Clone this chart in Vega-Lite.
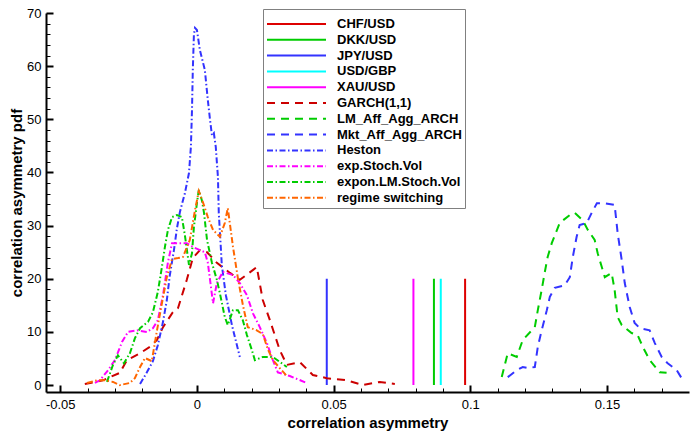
{
  "$schema": "https://vega.github.io/schema/vega-lite/v6.json",
  "width": 643,
  "height": 379,
  "autosize": {"type": "none"},
  "padding": {"left": 46, "top": 13, "right": 9, "bottom": 49},
  "background": "white",
  "data": {
    "values": [
      {"s": "CHF/USD", "x": 0.0981, "y": 0}, {"s": "CHF/USD", "x": 0.0981, "y": 20},
      {"s": "DKK/USD", "x": 0.0867, "y": 0}, {"s": "DKK/USD", "x": 0.0867, "y": 20},
      {"s": "JPY/USD", "x": 0.0475, "y": 0}, {"s": "JPY/USD", "x": 0.0475, "y": 20},
      {"s": "USD/GBP", "x": 0.0892, "y": 0}, {"s": "USD/GBP", "x": 0.0892, "y": 20},
      {"s": "XAU/USD", "x": 0.0792, "y": 0}, {"s": "XAU/USD", "x": 0.0792, "y": 20},

      {"s": "GARCH(1,1)", "x": -0.0410, "y": 0.2}, {"s": "GARCH(1,1)", "x": -0.0344, "y": 0.9},
      {"s": "GARCH(1,1)", "x": -0.0282, "y": 2.3}, {"s": "GARCH(1,1)", "x": -0.0256, "y": 4.7},
      {"s": "GARCH(1,1)", "x": -0.0208, "y": 6.0}, {"s": "GARCH(1,1)", "x": -0.0172, "y": 7.2},
      {"s": "GARCH(1,1)", "x": -0.0146, "y": 8.5}, {"s": "GARCH(1,1)", "x": -0.0124, "y": 10.9},
      {"s": "GARCH(1,1)", "x": -0.0088, "y": 13.7}, {"s": "GARCH(1,1)", "x": -0.0069, "y": 14.5},
      {"s": "GARCH(1,1)", "x": -0.0037, "y": 19.8}, {"s": "GARCH(1,1)", "x": -0.0015, "y": 23.9},
      {"s": "GARCH(1,1)", "x": 0.0011, "y": 25.4}, {"s": "GARCH(1,1)", "x": 0.0037, "y": 25.0},
      {"s": "GARCH(1,1)", "x": 0.0073, "y": 23.0}, {"s": "GARCH(1,1)", "x": 0.0121, "y": 21.1},
      {"s": "GARCH(1,1)", "x": 0.0157, "y": 19.8}, {"s": "GARCH(1,1)", "x": 0.0219, "y": 22.2},
      {"s": "GARCH(1,1)", "x": 0.0241, "y": 16.0}, {"s": "GARCH(1,1)", "x": 0.0267, "y": 12.2},
      {"s": "GARCH(1,1)", "x": 0.0303, "y": 6.6}, {"s": "GARCH(1,1)", "x": 0.0329, "y": 3.8},
      {"s": "GARCH(1,1)", "x": 0.0377, "y": 4.3}, {"s": "GARCH(1,1)", "x": 0.0424, "y": 1.9},
      {"s": "GARCH(1,1)", "x": 0.0475, "y": 1.3}, {"s": "GARCH(1,1)", "x": 0.0548, "y": 0.9},
      {"s": "GARCH(1,1)", "x": 0.0607, "y": 0.0}, {"s": "GARCH(1,1)", "x": 0.0669, "y": 0.6},
      {"s": "GARCH(1,1)", "x": 0.0724, "y": 0.2},

      {"s": "LM_Aff_Agg_ARCH", "x": 0.1115, "y": 1.5}, {"s": "LM_Aff_Agg_ARCH", "x": 0.1137, "y": 6.0},
      {"s": "LM_Aff_Agg_ARCH", "x": 0.1170, "y": 5.3}, {"s": "LM_Aff_Agg_ARCH", "x": 0.1192, "y": 8.5},
      {"s": "LM_Aff_Agg_ARCH", "x": 0.1236, "y": 10.9}, {"s": "LM_Aff_Agg_ARCH", "x": 0.1247, "y": 14.1},
      {"s": "LM_Aff_Agg_ARCH", "x": 0.1261, "y": 17.9}, {"s": "LM_Aff_Agg_ARCH", "x": 0.1272, "y": 21.1},
      {"s": "LM_Aff_Agg_ARCH", "x": 0.1283, "y": 24.1}, {"s": "LM_Aff_Agg_ARCH", "x": 0.1298, "y": 26.7},
      {"s": "LM_Aff_Agg_ARCH", "x": 0.1327, "y": 30.5}, {"s": "LM_Aff_Agg_ARCH", "x": 0.1364, "y": 32.0},
      {"s": "LM_Aff_Agg_ARCH", "x": 0.1382, "y": 32.4}, {"s": "LM_Aff_Agg_ARCH", "x": 0.1411, "y": 31.0},
      {"s": "LM_Aff_Agg_ARCH", "x": 0.1430, "y": 29.2}, {"s": "LM_Aff_Agg_ARCH", "x": 0.1455, "y": 27.3},
      {"s": "LM_Aff_Agg_ARCH", "x": 0.1466, "y": 24.8}, {"s": "LM_Aff_Agg_ARCH", "x": 0.1481, "y": 22.2},
      {"s": "LM_Aff_Agg_ARCH", "x": 0.1492, "y": 20.3}, {"s": "LM_Aff_Agg_ARCH", "x": 0.1517, "y": 21.1},
      {"s": "LM_Aff_Agg_ARCH", "x": 0.1528, "y": 17.9}, {"s": "LM_Aff_Agg_ARCH", "x": 0.1539, "y": 12.8},
      {"s": "LM_Aff_Agg_ARCH", "x": 0.1554, "y": 11.3}, {"s": "LM_Aff_Agg_ARCH", "x": 0.1590, "y": 9.8},
      {"s": "LM_Aff_Agg_ARCH", "x": 0.1612, "y": 9.4}, {"s": "LM_Aff_Agg_ARCH", "x": 0.1631, "y": 7.2},
      {"s": "LM_Aff_Agg_ARCH", "x": 0.1656, "y": 4.7}, {"s": "LM_Aff_Agg_ARCH", "x": 0.1693, "y": 2.4},
      {"s": "LM_Aff_Agg_ARCH", "x": 0.1718, "y": 2.3},

      {"s": "Mkt_Aff_Agg_ARCH", "x": 0.1137, "y": 1.5}, {"s": "Mkt_Aff_Agg_ARCH", "x": 0.1170, "y": 2.8},
      {"s": "Mkt_Aff_Agg_ARCH", "x": 0.1192, "y": 3.4}, {"s": "Mkt_Aff_Agg_ARCH", "x": 0.1210, "y": 3.2},
      {"s": "Mkt_Aff_Agg_ARCH", "x": 0.1236, "y": 3.4}, {"s": "Mkt_Aff_Agg_ARCH", "x": 0.1247, "y": 7.2},
      {"s": "Mkt_Aff_Agg_ARCH", "x": 0.1261, "y": 10.3}, {"s": "Mkt_Aff_Agg_ARCH", "x": 0.1280, "y": 14.1},
      {"s": "Mkt_Aff_Agg_ARCH", "x": 0.1291, "y": 16.6}, {"s": "Mkt_Aff_Agg_ARCH", "x": 0.1309, "y": 18.3},
      {"s": "Mkt_Aff_Agg_ARCH", "x": 0.1346, "y": 18.8}, {"s": "Mkt_Aff_Agg_ARCH", "x": 0.1364, "y": 20.3},
      {"s": "Mkt_Aff_Agg_ARCH", "x": 0.1375, "y": 24.1}, {"s": "Mkt_Aff_Agg_ARCH", "x": 0.1389, "y": 27.9},
      {"s": "Mkt_Aff_Agg_ARCH", "x": 0.1400, "y": 30.1}, {"s": "Mkt_Aff_Agg_ARCH", "x": 0.1426, "y": 30.5},
      {"s": "Mkt_Aff_Agg_ARCH", "x": 0.1444, "y": 32.4}, {"s": "Mkt_Aff_Agg_ARCH", "x": 0.1463, "y": 34.2},
      {"s": "Mkt_Aff_Agg_ARCH", "x": 0.1492, "y": 34.2}, {"s": "Mkt_Aff_Agg_ARCH", "x": 0.1528, "y": 33.9},
      {"s": "Mkt_Aff_Agg_ARCH", "x": 0.1539, "y": 28.6}, {"s": "Mkt_Aff_Agg_ARCH", "x": 0.1554, "y": 23.5},
      {"s": "Mkt_Aff_Agg_ARCH", "x": 0.1565, "y": 19.2}, {"s": "Mkt_Aff_Agg_ARCH", "x": 0.1583, "y": 14.7},
      {"s": "Mkt_Aff_Agg_ARCH", "x": 0.1601, "y": 11.7}, {"s": "Mkt_Aff_Agg_ARCH", "x": 0.1620, "y": 10.7},
      {"s": "Mkt_Aff_Agg_ARCH", "x": 0.1656, "y": 10.3}, {"s": "Mkt_Aff_Agg_ARCH", "x": 0.1675, "y": 7.9},
      {"s": "Mkt_Aff_Agg_ARCH", "x": 0.1700, "y": 5.3}, {"s": "Mkt_Aff_Agg_ARCH", "x": 0.1722, "y": 4.1},
      {"s": "Mkt_Aff_Agg_ARCH", "x": 0.1755, "y": 2.8}, {"s": "Mkt_Aff_Agg_ARCH", "x": 0.1773, "y": 1.3},

      {"s": "Heston", "x": -0.0208, "y": 0.2}, {"s": "Heston", "x": -0.0183, "y": 2.4},
      {"s": "Heston", "x": -0.0161, "y": 4.5}, {"s": "Heston", "x": -0.0143, "y": 7.5},
      {"s": "Heston", "x": -0.0124, "y": 11.9}, {"s": "Heston", "x": -0.0110, "y": 16.0},
      {"s": "Heston", "x": -0.0099, "y": 20.7}, {"s": "Heston", "x": -0.0084, "y": 25.4},
      {"s": "Heston", "x": -0.0073, "y": 29.5}, {"s": "Heston", "x": -0.0062, "y": 32.6},
      {"s": "Heston", "x": -0.0044, "y": 36.1}, {"s": "Heston", "x": -0.0029, "y": 39.9},
      {"s": "Heston", "x": -0.0022, "y": 44.8}, {"s": "Heston", "x": -0.0018, "y": 51.7},
      {"s": "Heston", "x": -0.0015, "y": 59.3}, {"s": "Heston", "x": -0.0011, "y": 65.9},
      {"s": "Heston", "x": -0.0007, "y": 67.2}, {"s": "Heston", "x": 0.0000, "y": 66.8},
      {"s": "Heston", "x": 0.0011, "y": 63.0}, {"s": "Heston", "x": 0.0029, "y": 59.3},
      {"s": "Heston", "x": 0.0040, "y": 53.6}, {"s": "Heston", "x": 0.0048, "y": 49.9},
      {"s": "Heston", "x": 0.0055, "y": 47.0}, {"s": "Heston", "x": 0.0062, "y": 47.4},
      {"s": "Heston", "x": 0.0069, "y": 44.8}, {"s": "Heston", "x": 0.0077, "y": 39.1},
      {"s": "Heston", "x": 0.0080, "y": 32.4}, {"s": "Heston", "x": 0.0088, "y": 25.4},
      {"s": "Heston", "x": 0.0091, "y": 22.6}, {"s": "Heston", "x": 0.0106, "y": 16.9},
      {"s": "Heston", "x": 0.0128, "y": 11.3}, {"s": "Heston", "x": 0.0157, "y": 5.3},

      {"s": "exp.Stoch.Vol", "x": -0.0373, "y": 0.4}, {"s": "exp.Stoch.Vol", "x": -0.0355, "y": 0.9},
      {"s": "exp.Stoch.Vol", "x": -0.0325, "y": 2.8}, {"s": "exp.Stoch.Vol", "x": -0.0300, "y": 4.7},
      {"s": "exp.Stoch.Vol", "x": -0.0274, "y": 8.1}, {"s": "exp.Stoch.Vol", "x": -0.0252, "y": 10.0},
      {"s": "exp.Stoch.Vol", "x": -0.0219, "y": 10.3}, {"s": "exp.Stoch.Vol", "x": -0.0183, "y": 10.0},
      {"s": "exp.Stoch.Vol", "x": -0.0161, "y": 10.7}, {"s": "exp.Stoch.Vol", "x": -0.0143, "y": 12.2},
      {"s": "exp.Stoch.Vol", "x": -0.0124, "y": 16.9}, {"s": "exp.Stoch.Vol", "x": -0.0106, "y": 23.1},
      {"s": "exp.Stoch.Vol", "x": -0.0091, "y": 26.7}, {"s": "exp.Stoch.Vol", "x": -0.0062, "y": 26.7},
      {"s": "exp.Stoch.Vol", "x": -0.0037, "y": 26.7}, {"s": "exp.Stoch.Vol", "x": -0.0015, "y": 26.0},
      {"s": "exp.Stoch.Vol", "x": 0.0011, "y": 25.4}, {"s": "exp.Stoch.Vol", "x": 0.0029, "y": 25.0},
      {"s": "exp.Stoch.Vol", "x": 0.0040, "y": 23.0}, {"s": "exp.Stoch.Vol", "x": 0.0059, "y": 15.4},
      {"s": "exp.Stoch.Vol", "x": 0.0073, "y": 19.2}, {"s": "exp.Stoch.Vol", "x": 0.0095, "y": 21.3},
      {"s": "exp.Stoch.Vol", "x": 0.0132, "y": 20.7}, {"s": "exp.Stoch.Vol", "x": 0.0157, "y": 19.2},
      {"s": "exp.Stoch.Vol", "x": 0.0183, "y": 16.9}, {"s": "exp.Stoch.Vol", "x": 0.0205, "y": 13.5},
      {"s": "exp.Stoch.Vol", "x": 0.0230, "y": 10.9}, {"s": "exp.Stoch.Vol", "x": 0.0256, "y": 7.9},
      {"s": "exp.Stoch.Vol", "x": 0.0278, "y": 4.7}, {"s": "exp.Stoch.Vol", "x": 0.0296, "y": 2.4},
      {"s": "exp.Stoch.Vol", "x": 0.0340, "y": 1.7}, {"s": "exp.Stoch.Vol", "x": 0.0402, "y": 0.4},

      {"s": "expon.LM.Stoch.Vol", "x": -0.0329, "y": 0.6}, {"s": "expon.LM.Stoch.Vol", "x": -0.0307, "y": 3.8},
      {"s": "expon.LM.Stoch.Vol", "x": -0.0289, "y": 5.6}, {"s": "expon.LM.Stoch.Vol", "x": -0.0267, "y": 4.1},
      {"s": "expon.LM.Stoch.Vol", "x": -0.0245, "y": 6.0}, {"s": "expon.LM.Stoch.Vol", "x": -0.0227, "y": 8.8},
      {"s": "expon.LM.Stoch.Vol", "x": -0.0208, "y": 10.7}, {"s": "expon.LM.Stoch.Vol", "x": -0.0179, "y": 11.9},
      {"s": "expon.LM.Stoch.Vol", "x": -0.0161, "y": 13.7}, {"s": "expon.LM.Stoch.Vol", "x": -0.0143, "y": 17.5},
      {"s": "expon.LM.Stoch.Vol", "x": -0.0128, "y": 22.2}, {"s": "expon.LM.Stoch.Vol", "x": -0.0117, "y": 26.0},
      {"s": "expon.LM.Stoch.Vol", "x": -0.0106, "y": 29.2}, {"s": "expon.LM.Stoch.Vol", "x": -0.0091, "y": 31.6},
      {"s": "expon.LM.Stoch.Vol", "x": -0.0073, "y": 32.0}, {"s": "expon.LM.Stoch.Vol", "x": -0.0055, "y": 31.6},
      {"s": "expon.LM.Stoch.Vol", "x": -0.0044, "y": 28.2}, {"s": "expon.LM.Stoch.Vol", "x": -0.0029, "y": 22.6},
      {"s": "expon.LM.Stoch.Vol", "x": -0.0018, "y": 24.8}, {"s": "expon.LM.Stoch.Vol", "x": -0.0011, "y": 29.7},
      {"s": "expon.LM.Stoch.Vol", "x": 0.0000, "y": 34.2}, {"s": "expon.LM.Stoch.Vol", "x": 0.0007, "y": 36.7},
      {"s": "expon.LM.Stoch.Vol", "x": 0.0018, "y": 34.8}, {"s": "expon.LM.Stoch.Vol", "x": 0.0026, "y": 32.4},
      {"s": "expon.LM.Stoch.Vol", "x": 0.0037, "y": 27.3}, {"s": "expon.LM.Stoch.Vol", "x": 0.0055, "y": 23.0},
      {"s": "expon.LM.Stoch.Vol", "x": 0.0073, "y": 19.8}, {"s": "expon.LM.Stoch.Vol", "x": 0.0084, "y": 17.3},
      {"s": "expon.LM.Stoch.Vol", "x": 0.0102, "y": 12.8}, {"s": "expon.LM.Stoch.Vol", "x": 0.0113, "y": 11.3},
      {"s": "expon.LM.Stoch.Vol", "x": 0.0132, "y": 14.1}, {"s": "expon.LM.Stoch.Vol", "x": 0.0150, "y": 14.1},
      {"s": "expon.LM.Stoch.Vol", "x": 0.0168, "y": 12.2}, {"s": "expon.LM.Stoch.Vol", "x": 0.0183, "y": 9.4},
      {"s": "expon.LM.Stoch.Vol", "x": 0.0201, "y": 6.6}, {"s": "expon.LM.Stoch.Vol", "x": 0.0212, "y": 4.7},
      {"s": "expon.LM.Stoch.Vol", "x": 0.0241, "y": 5.3}, {"s": "expon.LM.Stoch.Vol", "x": 0.0278, "y": 5.3},
      {"s": "expon.LM.Stoch.Vol", "x": 0.0329, "y": 3.4},

      {"s": "regime switching", "x": -0.0402, "y": 0.4}, {"s": "regime switching", "x": -0.0366, "y": 0.9},
      {"s": "regime switching", "x": -0.0336, "y": 0.9}, {"s": "regime switching", "x": -0.0307, "y": 0.6},
      {"s": "regime switching", "x": -0.0282, "y": 0.0}, {"s": "regime switching", "x": -0.0245, "y": 0.4},
      {"s": "regime switching", "x": -0.0227, "y": 1.3}, {"s": "regime switching", "x": -0.0208, "y": 3.4},
      {"s": "regime switching", "x": -0.0190, "y": 5.1}, {"s": "regime switching", "x": -0.0165, "y": 4.5},
      {"s": "regime switching", "x": -0.0146, "y": 10.3}, {"s": "regime switching", "x": -0.0128, "y": 15.4},
      {"s": "regime switching", "x": -0.0110, "y": 20.3}, {"s": "regime switching", "x": -0.0091, "y": 23.7},
      {"s": "regime switching", "x": -0.0069, "y": 23.9}, {"s": "regime switching", "x": -0.0051, "y": 24.1},
      {"s": "regime switching", "x": -0.0026, "y": 27.3}, {"s": "regime switching", "x": -0.0007, "y": 32.9},
      {"s": "regime switching", "x": 0.0007, "y": 36.5}, {"s": "regime switching", "x": 0.0022, "y": 34.4},
      {"s": "regime switching", "x": 0.0040, "y": 31.6}, {"s": "regime switching", "x": 0.0059, "y": 29.2},
      {"s": "regime switching", "x": 0.0084, "y": 27.9}, {"s": "regime switching", "x": 0.0102, "y": 30.5},
      {"s": "regime switching", "x": 0.0113, "y": 33.3}, {"s": "regime switching", "x": 0.0132, "y": 26.0},
      {"s": "regime switching", "x": 0.0150, "y": 20.1}, {"s": "regime switching", "x": 0.0168, "y": 15.1},
      {"s": "regime switching", "x": 0.0186, "y": 10.9}, {"s": "regime switching", "x": 0.0219, "y": 10.3},
      {"s": "regime switching", "x": 0.0241, "y": 9.6}, {"s": "regime switching", "x": 0.0259, "y": 6.8},
      {"s": "regime switching", "x": 0.0278, "y": 4.7}, {"s": "regime switching", "x": 0.0303, "y": 3.2},
      {"s": "regime switching", "x": 0.0329, "y": 1.7}
    ]
  },
  "layer": [
    {
      "mark": {"type": "line", "strokeWidth": 2},
      "encoding": {
        "x": {
          "field": "x", "type": "quantitative",
          "scale": {"domain": [-0.0552, 0.18], "nice": false, "zero": false},
          "axis": {"orient": "bottom", "title": "correlation asymmetry", "values": [-0.05, 0, 0.05, 0.1, 0.15], "labelExpr": "'' + datum.value", "labelFontSize": 13, "domainWidth": 2, "tickWidth": 2, "tickSize": -7, "labelPadding": 13, "titlePadding": 4, "labelFlush": false}
        },
        "y": {
          "field": "y", "type": "quantitative",
          "scale": {"domain": [-1.3, 70], "nice": false, "zero": false},
          "axis": {"orient": "left", "title": "correlation asymmetry pdf", "values": [0, 10, 20, 30, 40, 50, 60, 70], "labelFontSize": 13, "domainWidth": 2, "tickWidth": 2, "tickSize": -7, "labelPadding": 12, "titlePadding": 2, "labelFlush": false}
        },
        "color": {
          "field": "s", "type": "nominal",
          "scale": {
            "domain": ["CHF/USD", "DKK/USD", "JPY/USD", "USD/GBP", "XAU/USD", "GARCH(1,1)", "LM_Aff_Agg_ARCH", "Mkt_Aff_Agg_ARCH", "Heston", "exp.Stoch.Vol", "expon.LM.Stoch.Vol", "regime switching"],
            "range": ["#dd0000", "#00cc00", "#3333ff", "#00ffff", "#ff00ff", "#cc0000", "#00cc00", "#3333ff", "#3333ff", "#ff00ff", "#00cc00", "#ff6600"]
          },
          "legend": {"title": " ", "orient": "none", "legendX": 217, "legendY": -4}
        },
        "strokeDash": {
          "field": "s", "type": "nominal",
          "scale": {
            "domain": ["CHF/USD", "DKK/USD", "JPY/USD", "USD/GBP", "XAU/USD", "GARCH(1,1)", "LM_Aff_Agg_ARCH", "Mkt_Aff_Agg_ARCH", "Heston", "exp.Stoch.Vol", "expon.LM.Stoch.Vol", "regime switching"],
            "range": [[1, 0], [1, 0], [1, 0], [1, 0], [1, 0], [8, 6], [8, 6], [8, 6], [6, 2.5, 1.5, 2.5], [6, 2.5, 1.5, 2.5], [6, 2.5, 1.5, 2.5], [6, 2.5, 1.5, 2.5]]
          },
          "legend": {"title": " ", "orient": "none", "legendX": 217, "legendY": -4}
        }
      }
    },
    {
      "mark": {"type": "point", "opacity": 0},
      "encoding": {
        "x": {"field": "x", "type": "quantitative", "axis": {"orient": "bottom", "title": null, "labels": false, "domain": false, "tickSize": -4, "tickWidth": 1, "values": [-0.04, -0.03, -0.02, -0.01, 0.01, 0.02, 0.03, 0.04, 0.06, 0.07, 0.08, 0.09, 0.11, 0.12, 0.13, 0.14, 0.16, 0.17]}},
        "y": {"field": "y", "type": "quantitative", "axis": {"orient": "left", "title": null, "labels": false, "domain": false, "tickSize": -4, "tickWidth": 1, "values": [2, 4, 6, 8, 12, 14, 16, 18, 22, 24, 26, 28, 32, 34, 36, 38, 42, 44, 46, 48, 52, 54, 56, 58, 62, 64, 66, 68]}}
      }
    }
  ],
  "resolve": {"axis": {"x": "independent", "y": "independent"}},
  "config": {
    "view": {"stroke": null},
    "font": "Liberation Sans",
    "axis": {"grid": false, "labelFont": "Liberation Sans", "labelColor": "black", "labelFontSize": 13, "titleFont": "Liberation Sans", "titleFontSize": 15, "titleFontWeight": "bold", "titleColor": "black", "domainColor": "black", "tickColor": "black"},
    "legend": {
      "symbolType": "stroke", "symbolSize": 3481, "symbolStrokeWidth": 2, "symbolOpacity": 1,
      "labelFont": "Liberation Sans", "labelFontSize": 13, "labelFontWeight": "bold", "labelColor": "black", "labelOffset": 10, "labelLimit": 300,
      "clipHeight": 10, "rowPadding": 2.8, "padding": 3,
      "titleFontSize": 1, "titlePadding": 6,
      "fillColor": "white", "strokeColor": "#808080", "strokeWidth": 1
    }
  }
}
